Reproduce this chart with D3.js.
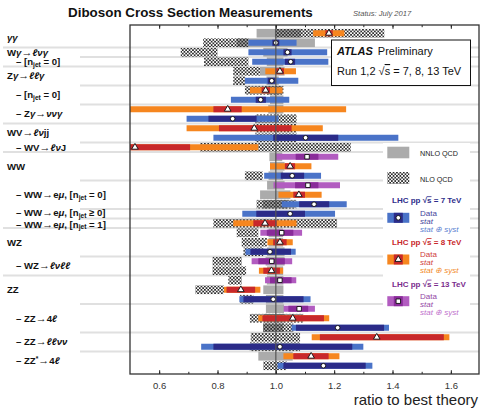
<!DOCTYPE html>
<html><head><meta charset="utf-8">
<script src="https://cdn.jsdelivr.net/npm/d3@7"></script>
<style>
body{margin:0;background:#fff;}
svg{display:block;font-family:"Liberation Sans",Arial,Helvetica,sans-serif;}
</style></head><body>
<svg id="chart" width="480" height="410"></svg>
<script>
// ---- measurements, one entry per row (top to bottom) ----
const rowEnergy = [8,7,7,7,8,7,8,7,8,7,8,7,8,13,8,7,13,8,7,7,8,13,8,7,13,8,13,8,7,13,8,7,8,7,8,7];
const central   = [1.182,1.0,1.04,1.051,1.014,0.986,0.965,0.948,0.835,0.852,0.926,1.102,0.517,1.107,1.049,1.056,1.11,1.079,1.131,1.049,0.963,1.02,1.014,0.98,0.986,0.985,1.014,0.88,0.991,1.08,1.058,1.212,1.346,1.014,1.121,1.163];
const statLow   = [1.17,0.988,1.026,1.031,1.0,0.972,0.951,0.931,0.786,0.769,0.805,0.991,0.3,1.068,1.031,1.017,1.066,1.06,1.08,0.933,0.923,0.969,0.991,0.913,0.94,0.957,0.98,0.831,0.889,1.043,0.954,1.069,1.151,0.786,1.06,1.026];
const statHigh  = [1.195,1.012,1.054,1.066,1.028,1.0,0.98,0.966,0.883,0.934,1.054,1.214,0.706,1.146,1.066,1.097,1.146,1.10,1.183,1.10,1.003,1.06,1.037,1.052,1.031,1.014,1.054,0.929,1.095,1.111,1.165,1.371,1.576,1.262,1.181,1.308];
const totalLow  = [1.128,0.906,0.906,0.919,0.964,0.894,0.911,0.846,0.3,0.694,0.694,0.786,0.1,0.999,0.98,0.96,0.992,1.009,1.02,0.885,0.854,0.947,0.971,0.896,0.917,0.942,0.963,0.822,0.875,1.027,0.94,1.054,1.123,0.744,1.026,1.006];
const totalHigh = [1.235,1.071,1.176,1.18,1.069,1.077,1.023,1.046,1.241,1.009,1.161,1.42,0.94,1.214,1.122,1.155,1.22,1.157,1.243,1.203,1.071,1.09,1.058,1.068,1.056,1.025,1.07,0.947,1.119,1.134,1.183,1.388,1.595,1.30,1.218,1.331];

// ---- theory predictions (NNLO QCD solid, NLO QCD hatched), null = none ----
const nnloLow  = [0.934,0.866,0.957,0.969,0.946,0.968,0.97,0.98,0.974,null,null,null,null,0.978,0.98,0.975,0.97,0.946,0.955,null,null,0.975,0.975,0.97,0.965,0.97,0.969,0.957,0.966,0.966,0.96,0.957,null,null,0.94,null];
const nnloHigh = [1.086,1.134,1.04,1.026,1.03,1.01,1.02,1.026,1.026,null,null,null,null,1.022,1.03,1.025,1.03,1.05,1.04,null,null,1.025,1.025,1.03,1.03,1.025,1.026,1.026,1.026,1.028,1.03,1.026,null,null,1.058,null];
const nloLow   = [0.997,0.751,0.674,0.754,0.854,0.854,0.894,null,null,0.929,0.929,0.929,0.74,null,null,0.894,null,null,0.934,null,0.786,0.866,0.883,0.889,0.783,0.783,0.837,0.724,0.877,null,0.911,0.956,0.914,0.911,null,0.957];
const nloHigh  = [1.372,0.906,0.80,0.906,0.946,0.894,1.026,null,null,1.071,1.071,1.071,1.257,null,null,0.955,null,null,1.07,null,1.21,0.94,0.969,0.957,0.883,0.898,0.883,0.822,0.923,null,1.094,1.06,1.083,1.083,null,1.037];

// ---- process labels ----
const processLabels = ["γγ","Wγ→ℓνγ","– [n_{jet} = 0]","Zγ→ℓℓγ","– [n_{jet} = 0]","– Zγ→ννγ","WV→ℓνjj","– WV→ℓνJ","WW","– WW→eμ, [n_{jet} = 0]","– WW→eμ, [n_{jet} ≥ 0]","– WW→eμ, [n_{jet} = 1]","WZ","– WZ→ℓνℓℓ","ZZ","– ZZ→4ℓ","– ZZ→ℓℓνν","– ZZ^{*}→4ℓ"];
const labelRows = [0.5,2,3,4.5,6.5,8.5,10.5,12,14,17,18.88,20.12,22,24.5,27,30,32.5,34.5];
const labelIndented = [0,0,1,0,1,1,0,1,0,1,1,1,0,1,0,1,1,1];
const separatorRows = [1.5,2.5,3.5,5.5,7.5,9.5,11.5,12.5,15.5,18.5,19.5,20.5,23.5,25.5,28.5,31.5,33.5];
const separatorFull = [1,0,1,0,0,1,0,1,0,0,0,1,0,1,0,0,0];

const tickValues = [0.6,0.8,1.0,1.2,1.4,1.6];
const minorTickValues = [0.6,0.7,0.8,0.9,1.0,1.1,1.2,1.3,1.4,1.5,1.6];
const energies = [7,8,13];

const style = {
  7:  {total:"#4a73c8", stat:"#2b2b88", head:"#2d2d8a", data:"#45459c", syst:"#5a80cf", marker:d3.symbolCircle,   size:17},
  8:  {total:"#f6861f", stat:"#c8282b", head:"#c8282b", data:"#cf4040", syst:"#f28a2a", marker:d3.symbolTriangle, size:19},
  13: {total:"#b25cc0", stat:"#8a2c9a", head:"#7a2c8c", data:"#9448a6", syst:"#c070cc", marker:d3.symbolSquare,   size:20}
};

const svg = d3.select("#chart");
const plot = {left:130, right:479, top:25, bottom:374};
const x = d3.scaleLinear().domain([0.5, 1.7]).range([130, 480]);
const y = d3.scaleLinear().domain([-0.87, 35.87]).range([plot.top, plot.bottom]);
const rows = d3.range(rowEnergy.length);

const defs = svg.append("defs");
const pat = defs.append("pattern").attr("id","hatch").attr("patternUnits","userSpaceOnUse")
  .attr("width",3.4).attr("height",3.4);
pat.append("rect").attr("width",1.7).attr("height",1.7).attr("fill","#2e2e2e");
pat.append("rect").attr("x",1.7).attr("y",1.7).attr("width",1.7).attr("height",1.7).attr("fill","#2e2e2e");
defs.append("clipPath").attr("id","plotClip").append("rect")
  .attr("x",plot.left).attr("y",plot.top).attr("width",plot.right-plot.left).attr("height",plot.bottom-plot.top);

// title
svg.append("text").attr("x",68).attr("y",17).attr("font-weight","bold").attr("font-size","13.4px")
  .attr("fill","#111").text("Diboson Cross Section Measurements");
svg.append("text").attr("x",353).attr("y",16).attr("font-style","italic").attr("font-size","7.6px")
  .attr("fill","#555").text("Status: July 2017");

// separators
svg.append("g").selectAll("line").data(separatorRows).join("line")
  .attr("x1",(d,i)=>separatorFull[i]?3:80).attr("x2",479)
  .attr("y1",d=>y(d)).attr("y2",d=>y(d))
  .attr("stroke","#e0e0e0").attr("stroke-width",1.8);

// rich-text helper: greek / ℓ italic, arrows wider, _{..} subscript, ^{..} superscript
function richText(sel, str){
  const parts = str.split(/(_\{[^}]*\}|\^\{[^}]*\})/);
  let shift = 0;
  parts.forEach(p=>{
    if(!p) return;
    if(p.startsWith("_{")||p.startsWith("^{")){
      const d = p[0]==="_" ? 1.6 : -3.5;
      sel.append("tspan").attr("dy",d-shift).attr("font-size","6.6px").text(p.slice(2,-1));
      shift = d;
      return;
    }
    p.split(/([γνμℓ]+|→)/).forEach(q=>{
      if(!q) return;
      const t = sel.append("tspan").text(q);
      if(shift){ t.attr("dy",-shift); shift = 0; }
      if(/[γνμℓ]/.test(q)) t.attr("font-style","italic");
      if(q==="→") t.attr("font-size","11px");
    });
  });
}

const labels = svg.append("g").attr("font-weight","bold").attr("font-size","9.6px").attr("fill","#111");
processLabels.forEach((s,i)=>{
  const t = labels.append("text").attr("x",labelIndented[i]?16:7).attr("y",y(labelRows[i])+3.4);
  richText(t, s);
});

// bars
const bars = svg.append("g").attr("clip-path","url(#plotClip)");
const bandH = 8.7, barH = 6;
bars.append("g").selectAll("rect").data(rows.filter(i=>nnloLow[i]!==null)).join("rect")
  .attr("x",i=>x(nnloLow[i])).attr("width",i=>x(nnloHigh[i])-x(nnloLow[i]))
  .attr("y",i=>y(i)-bandH/2).attr("height",bandH).attr("fill","#ababab");
bars.append("g").selectAll("rect").data(rows.filter(i=>nloLow[i]!==null)).join("rect")
  .attr("x",i=>x(nloLow[i])).attr("width",i=>x(nloHigh[i])-x(nloLow[i]))
  .attr("y",i=>y(i)-bandH/2).attr("height",bandH).attr("fill","url(#hatch)");
bars.append("g").selectAll("rect").data(rows).join("rect")
  .attr("x",i=>x(totalLow[i])).attr("width",i=>x(totalHigh[i])-x(totalLow[i]))
  .attr("y",i=>y(i)-barH/2).attr("height",barH).attr("fill",i=>style[rowEnergy[i]].total);
bars.append("g").selectAll("rect").data(rows).join("rect")
  .attr("x",i=>x(statLow[i])).attr("width",i=>x(statHigh[i])-x(statLow[i]))
  .attr("y",i=>y(i)-barH/2).attr("height",barH).attr("fill",i=>style[rowEnergy[i]].stat);

// reference line at ratio 1
svg.append("line").attr("x1",x(1)).attr("x2",x(1)).attr("y1",plot.top).attr("y2",plot.bottom)
  .attr("stroke","#555").attr("stroke-width",1.2);

// central values
bars.append("g").selectAll("path").data(rows).join("path")
  .attr("transform",i=>`translate(${x(central[i])},${y(i)})`)
  .attr("d",i=>d3.symbol().type(style[rowEnergy[i]].marker).size(style[rowEnergy[i]].size)())
  .attr("fill","#fff").attr("stroke","#111").attr("stroke-width",0.9);

// axes
function axisStyle(g){ g.select(".domain").remove(); g.selectAll("line").attr("stroke","#222"); }
svg.append("g").attr("transform",`translate(0,${plot.bottom})`)
  .call(d3.axisBottom(x).tickValues(minorTickValues).tickSize(-2.2).tickFormat("")).call(axisStyle);
svg.append("g").attr("transform",`translate(0,${plot.bottom})`)
  .call(d3.axisBottom(x).tickValues(tickValues).tickSize(-3.8).tickPadding(8).tickFormat(d3.format(".1f")))
  .call(axisStyle)
  .call(g=>g.selectAll("text").attr("font-size","9.5px").attr("fill","#333").attr("font-family","Liberation Sans, Arial, sans-serif"));
svg.append("g").attr("transform",`translate(0,${plot.top})`)
  .call(d3.axisTop(x).tickValues(minorTickValues).tickSize(-2.2).tickFormat("")).call(axisStyle);
svg.append("g").attr("transform",`translate(0,${plot.top})`)
  .call(d3.axisTop(x).tickValues(tickValues).tickSize(-3.8).tickFormat("")).call(axisStyle);

// frame
svg.append("rect").attr("x",plot.left).attr("y",plot.top).attr("width",plot.right-plot.left)
  .attr("height",plot.bottom-plot.top).attr("fill","none").attr("stroke","#333").attr("stroke-width",1.3);

svg.append("text").attr("x",478).attr("y",405).attr("text-anchor","end").attr("font-size","15px")
  .attr("fill","#222").text("ratio to best theory");

// ATLAS box
svg.append("rect").attr("x",331.5).attr("y",40).attr("width",139).attr("height",45.5)
  .attr("fill","#fff").attr("stroke","#111").attr("stroke-width",1);
const at = svg.append("text").attr("x",337).attr("y",55).attr("font-size","11px").attr("fill","#111");
at.append("tspan").attr("font-weight","bold").attr("font-style","italic").text("ATLAS");
at.append("tspan").attr("dx",5).text("Preliminary");
const run = svg.append("text").attr("x",337).attr("y",75).attr("font-size","11px").attr("fill","#111");
run.append("tspan").text("Run 1,2  √");
run.append("tspan").style("text-decoration","overline").text("s");
run.append("tspan").text(" = 7, 8, 13 TeV");

// legend
const lg = svg.append("g");
lg.append("rect").attr("x",383).attr("y",143).attr("width",87).attr("height",176).attr("fill","#fff");
lg.append("rect").attr("x",387.3).attr("y",146.7).attr("width",22).attr("height",11.6).attr("fill","#ababab");
lg.append("text").attr("x",420).attr("y",155.5).attr("font-size","7.2px").attr("fill","#222").text("NNLO QCD");
lg.append("rect").attr("x",387.3).attr("y",172).attr("width",22).attr("height",12).attr("fill","url(#hatch)");
lg.append("text").attr("x",420).attr("y",181.5).attr("font-size","7.2px").attr("fill","#222").text("NLO QCD");

energies.forEach((e,i)=>{
  const s = style[e], y0 = 203.3 + i*41.7;
  const h = lg.append("text").attr("x",392).attr("y",y0).attr("font-size","8px").attr("font-weight","bold").attr("fill",s.head);
  h.append("tspan").text("LHC pp  √");
  h.append("tspan").style("text-decoration","overline").text("s");
  h.append("tspan").text(` = ${e} TeV`);
  lg.append("rect").attr("x",387.3).attr("y",y0+9.5).attr("width",22).attr("height",10).attr("fill",s.total);
  lg.append("rect").attr("x",393.8).attr("y",y0+9.5).attr("width",9).attr("height",10).attr("fill",s.stat);
  lg.append("path").attr("transform",`translate(398.3,${y0+14.5})`)
    .attr("d",d3.symbol().type(s.marker).size(s.size)()).attr("fill","#fff").attr("stroke","#111").attr("stroke-width",0.9);
  lg.append("text").attr("x",420).attr("y",y0+12.2).attr("font-size","8px").attr("fill",s.data).text("Data");
  lg.append("text").attr("x",420).attr("y",y0+20.2).attr("font-size","8px").attr("font-style","italic").attr("fill",s.data).text("stat");
  lg.append("text").attr("x",420).attr("y",y0+28.3).attr("font-size","8px").attr("font-style","italic").attr("fill",s.syst).text("stat ⊕ syst");
});
</script>
</body></html>
